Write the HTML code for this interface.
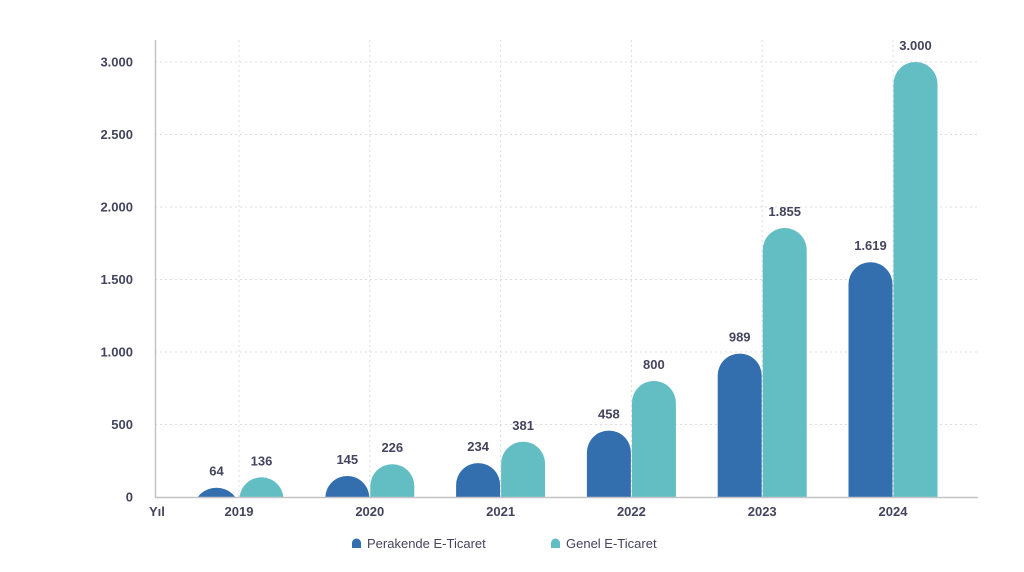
<!DOCTYPE html>
<html><head><meta charset="utf-8"><style>
body{margin:0;background:#fff;font-family:"Liberation Sans",sans-serif}
text{font-family:"Liberation Sans",sans-serif;fill:#44445e;font-size:13px}
</style></head><body>
<svg id="chart" width="1024" height="567" xmlns="http://www.w3.org/2000/svg">
<defs><clipPath id="plotclip"><rect x="150" y="0" width="840" height="497"/></clipPath></defs>
<g id="grid"></g>
<g id="bars" clip-path="url(#plotclip)"></g>
<g id="labels"></g>
<line x1="155.5" y1="40" x2="155.5" y2="497" stroke="#c4c4c8" stroke-width="1.5"/>
<line x1="155" y1="497.5" x2="978" y2="497.5" stroke="#c4c4c8" stroke-width="1.5"/>
<text x="149" y="516" font-weight="bold">Yıl</text>
<g>
<g><path d="M352 548 v-5 a4.5 4.5 0 0 1 9 0 v5 z" fill="#336fae"/><text x="367" y="548">Perakende E-Ticaret</text></g>
<g><path d="M551 548 v-5 a4.5 4.5 0 0 1 9 0 v5 z" fill="#63bec4"/><text x="566" y="548">Genel E-Ticaret</text></g>
</g>
</svg>
<script>
const categories=["2019","2020","2021","2022","2023","2024"];
const perakende=[64,145,234,458,989,1619];
const genel=[136,226,381,800,1855,3000];
const yTicks=[0,500,1000,1500,2000,2500,3000];
const yTickLabels=["0","500","1.000","1.500","2.000","2.500","3.000"];
const fmt=v=>v>=1000?Math.floor(v/1000)+"."+String(v%1000).padStart(3,"0"):String(v);
const NS="http://www.w3.org/2000/svg";
const y=v=>497-v*(435/3000);
const x=i=>239+i*130.8;
function mk(t,a,p){const e=document.createElementNS(NS,t);for(const k in a)e.setAttribute(k,a[k]);p.appendChild(e);return e;}
const grid=document.getElementById('grid'),bars=document.getElementById('bars'),labels=document.getElementById('labels');
yTicks.forEach((t,i)=>{
  if(t>0){const l=mk('line',{x1:155,x2:978,y1:y(t),y2:y(t),stroke:'#dcdce0','stroke-dasharray':'2,3'},grid);
  
  }
  const tx=mk('text',{x:133,y:y(t)+4.5,'text-anchor':'end','font-weight':'bold'},labels);tx.textContent=yTickLabels[i];
  
  
});
categories.forEach((c,i)=>{
  const l=mk('line',{x1:x(i),x2:x(i),y1:40,y2:497,stroke:'#dcdce0','stroke-dasharray':'2,3'},grid);
  
  
  const t=mk('text',{x:x(i),y:516,'text-anchor':'middle','font-weight':'bold'},labels);t.textContent=c;
  
  
  [[perakende[i],x(i)-44.5,'#336fae','perakende'],[genel[i],x(i)+0.5,'#63bec4','genel']].forEach(([v,bx,col,nm])=>{
    const top=y(v);
    const r=mk('rect',{x:bx,y:top,width:44,height:497-top+30,rx:22,ry:22,fill:col},bars);
    
    
    const vl=mk('text',{x:bx+22,y:top-12,'text-anchor':'middle','font-weight':'bold'},labels);vl.textContent=fmt(v);
    
    
  });
});
</script>
</body></html>
